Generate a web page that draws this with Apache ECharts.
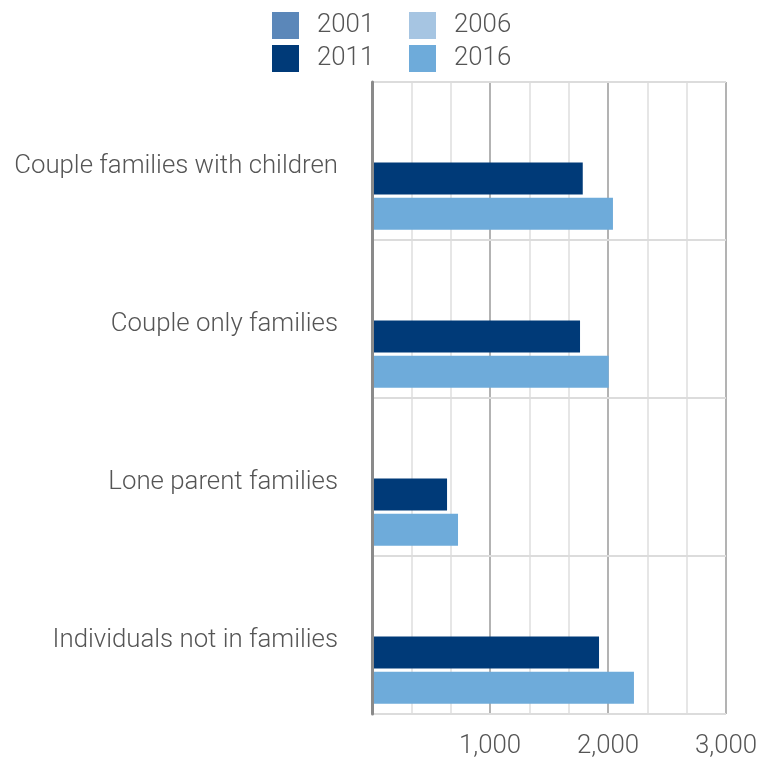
<!DOCTYPE html>
<html>
<head>
<meta charset="utf-8">
<script src="https://cdn.jsdelivr.net/npm/echarts@6/dist/echarts.min.js"></script>
<style>
html,body{margin:0;padding:0;background:#fff;}
#chart{width:770px;height:760px;}
</style>
</head>
<body>
<div id="chart"></div>
<script>
const categories = ['Couple families with children', 'Couple only families', 'Lone parent families', 'Individuals not in families'];
const seriesNames = ['2001', '2006', '2011', '2016'];
const values2001 = [null, null, null, null];
const values2006 = [null, null, null, null];
const values2011 = [1786, 1763, 636, 1924];
const values2016 = [2042, 2006, 729, 2220];
const xTicks = [0, 1000, 2000, 3000];
const colors = ['#5b87b9', '#a6c5e2', '#003a78', '#6eabda'];

const FONT = 'Roboto';
const TEXT = '#555555';
const FS = 25.8;

const chart = echarts.init(document.getElementById('chart'), null, {renderer: 'canvas'});
const allValues = [values2001, values2006, values2011, values2016];

const legendPos = [
  {left: 272, top: 12},
  {left: 409, top: 12},
  {left: 272, top: 45},
  {left: 409, top: 45}
];

const option = {
  animation: false,
  color: colors,
  legend: seriesNames.map((n, i) => ({
    data: [n],
    left: legendPos[i].left,
    top: legendPos[i].top,
    padding: 0,
    icon: 'rect',
    itemWidth: 27,
    itemHeight: 27,
    selectedMode: false,
    textStyle: {fontFamily: FONT, fontWeight: 300, fontSize: FS, color: TEXT, padding: [4, 0, 0, 13]}
  })),
  grid: {left: 372, right: 44, top: 82, bottom: 44, containLabel: false},
  xAxis: {
    type: 'value',
    min: xTicks[0],
    max: xTicks[xTicks.length - 1],
    interval: 1000,
    axisLine: {show: false},
    axisTick: {show: false},
    axisLabel: {
      margin: 20,
      fontFamily: FONT, fontWeight: 300, fontSize: FS, color: TEXT,
      formatter: v => v === 0 ? '' : v.toLocaleString('en-US')
    },
    splitLine: {show: true, lineStyle: {color: '#9a9a9a', width: 1.5}},
    minorTick: {show: false, splitNumber: 3},
    minorSplitLine: {show: true, lineStyle: {color: '#e6e6e6', width: 2}}
  },
  yAxis: {
    type: 'category',
    data: categories,
    inverse: true,
    axisLine: {show: true, lineStyle: {color: '#8a8a8a', width: 3}},
    axisTick: {show: false},
    axisLabel: {
      margin: 34,
      formatter: v => '{l|' + v + '}',
      rich: {l: {fontFamily: FONT, fontWeight: 300, fontSize: FS, color: TEXT, padding: [12, 0, 0, 0]}}
    },
    splitLine: {show: true, lineStyle: {color: '#dcdcdc', width: 2}},
    z: 5
  },
  series: seriesNames.map((n, i) => ({
    name: n,
    type: 'bar',
    data: allValues[i],
    barGap: '10%',
    barCategoryGap: '13%',
    itemStyle: {color: colors[i]},
    z: 3
  }))
};
chart.setOption(option);
</script>
</body>
</html>
